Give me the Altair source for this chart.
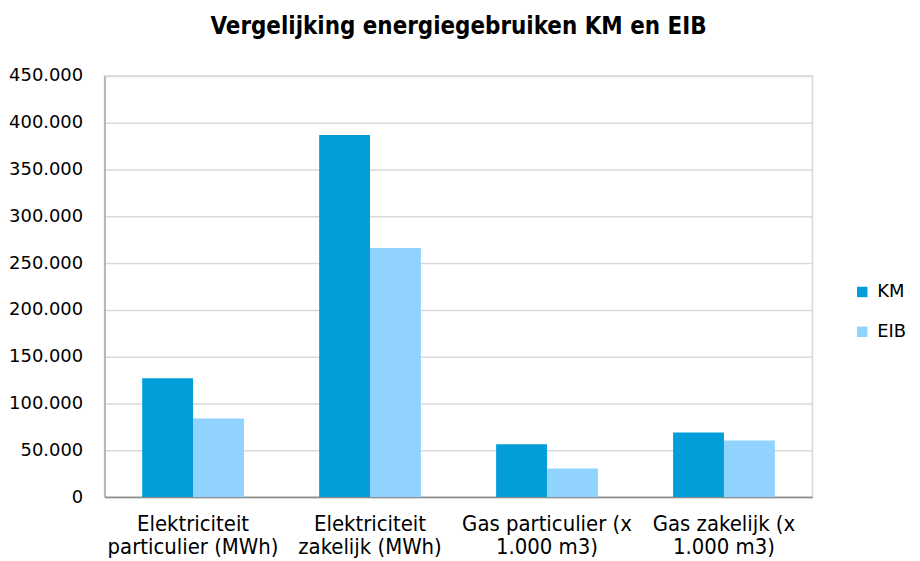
import altair as alt
import pandas as pd

categories = [
    "Elektriciteit\nparticulier (MWh)",
    "Elektriciteit\nzakelijk (MWh)",
    "Gas particulier (x\n1.000 m3)",
    "Gas zakelijk (x\n1.000 m3)",
]
series = ["KM", "EIB"]
km_values = [127000, 387000, 56500, 69000]
eib_values = [84000, 266000, 30500, 60500]
colors = ["#039ed9", "#8fd3fe"]

rows = []
for c, k, e in zip(categories, km_values, eib_values):
    rows.append({"categorie": c, "reeks": "KM", "waarde": k})
    rows.append({"categorie": c, "reeks": "EIB", "waarde": e})
df = pd.DataFrame(rows)

FONT_C = "DejaVu Sans Condensed"
FONT = "DejaVu Sans"

chart = (
    alt.Chart(df)
    .mark_bar(stroke=None)
    .encode(
        x=alt.X(
            "categorie:N",
            sort=categories,
            title=None,
            scale=alt.Scale(paddingInner=0.425, paddingOuter=0.2125),
            axis=alt.Axis(
                labelAngle=0,
                labelExpr="split(datum.label, '\\n')",
                labelFontSize=22,
                labelLineHeight=23,
                labelPadding=17,
                labelBaseline="top",
                labelColor="#000000",
                labelFont=FONT_C,
                ticks=False,
                domainColor="#8c8c8c",
                domainWidth=1.5,
                labelLimit=300,
            ),
        ),
        xOffset=alt.XOffset("reeks:N", sort=series),
        y=alt.Y(
            "waarde:Q",
            title=None,
            scale=alt.Scale(domain=[0, 450000], nice=False),
            axis=alt.Axis(
                values=[0, 50000, 100000, 150000, 200000, 250000, 300000, 350000, 400000, 450000],
                labelExpr="replace(format(datum.value, ','), ',', '.')",
                labelFontSize=18,
                labelPadding=22,
                labelColor="#000000",
                labelFont=FONT,
                ticks=False,
                domainColor="#8c8c8c",
                domainWidth=1,
                gridColor="#d9d9d9",
                gridWidth=1.5,
            ),
        ),
        color=alt.Color(
            "reeks:N",
            sort=series,
            scale=alt.Scale(domain=series, range=colors),
            legend=alt.Legend(
                title=None,
                orient="none",
                legendX=752,
                legendY=208,
                symbolType="square",
                symbolSize=110,
                symbolStrokeWidth=0,
                labelFontSize=18,
                labelFont=FONT,
                labelColor="#000000",
                rowPadding=22,
                labelOffset=6,
            ),
        ),
    )
    .properties(
        width=711,
        height=423,
        padding={"left": 97, "top": 67, "right": 100, "bottom": 63},
        autosize=alt.AutoSizeParams(type="none"),
        title=alt.Title(
            "Vergelijking energiegebruiken KM en EIB",
            fontSize=24,
            font=FONT_C,
            fontWeight="bold",
            color="#000000",
            anchor="middle",
            offset=28,
        ),
    )
    .configure_view(stroke="#d9d9d9", strokeWidth=1.5)
)

chart.save("out.html", embed_options={"renderer": "svg", "actions": False})
